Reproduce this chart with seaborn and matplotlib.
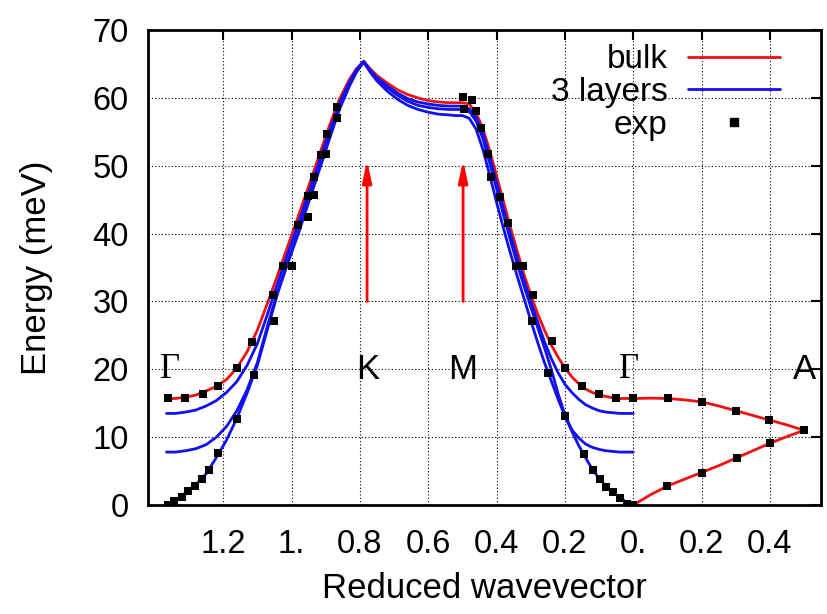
import numpy as np
import pandas as pd
import seaborn as sns
import matplotlib.pyplot as plt
from matplotlib.lines import Line2D

# === dane ===
# oś x: współrzędna wewnętrzna (Γ=-1.366, K=-0.789, M=-0.5, Γ=0, A=0.5)
U_PATH = [-1.366, -1.34, -1.31, -1.28, -1.25, -1.22, -1.19, -1.16, -1.13, -1.10,
          -1.07, -1.04, -1.01, -0.98, -0.95, -0.92, -0.89, -0.86, -0.83, -0.81,
          -0.789, -0.77, -0.75, -0.72, -0.69, -0.66, -0.63, -0.60, -0.57, -0.54,
          -0.52, -0.50, -0.48, -0.46, -0.44, -0.42, -0.40, -0.38, -0.36, -0.34,
          -0.32, -0.30, -0.28, -0.26, -0.24, -0.22, -0.20, -0.18, -0.16, -0.14,
          -0.12, -0.10, -0.08, -0.06, -0.04, -0.02, 0.0]

BULK_ZO = [15.7, 15.7, 15.9, 16.2, 16.8, 17.5, 18.5, 20.2, 22.6, 25.8,
           29.8, 34.0, 38.3, 42.6, 47.0, 51.4, 55.8, 59.8, 62.8, 64.3,
           65.4, 64.3, 63.3, 62.2, 61.2, 60.5, 60.0, 59.6, 59.4, 59.3,
           59.3, 59.3, 59.1, 57.8, 55.5, 52.2, 48.5, 44.8, 41.0, 37.5,
           34.0, 31.0, 28.2, 25.8, 23.6, 21.8, 20.2, 18.9, 17.9, 17.1,
           16.6, 16.2, 16.0, 15.8, 15.7, 15.7, 15.7]

L3_ZA = [0.0, 0.7, 1.8, 3.0, 4.6, 7.0, 9.6, 12.8, 16.5, 20.6,
         26.0, 31.3, 35.8, 40.0, 44.6, 49.2, 53.8, 58.3, 61.8, 63.8,
         65.3, 63.8, 62.5, 61.0, 59.8, 58.9, 58.3, 57.9, 57.6, 57.5,
         57.4, 57.4, 57.0, 55.4, 52.4, 48.6, 44.6, 40.8, 37.2, 33.8,
         30.5, 27.2, 24.0, 21.0, 18.3, 15.6, 13.1, 10.9, 8.8, 7.0,
         5.3, 3.9, 2.8, 1.9, 1.1, 0.4, 0.0]

L3_ZO1 = [7.8, 7.8, 8.0, 8.3, 8.9, 10.0, 11.6, 13.9, 17.0, 21.0,
          26.5, 31.6, 36.0, 40.4, 45.0, 49.6, 54.2, 58.6, 62.0, 64.0,
          65.3, 64.0, 62.8, 61.5, 60.4, 59.5, 58.9, 58.6, 58.4, 58.3,
          58.3, 58.3, 58.0, 56.6, 54.0, 50.4, 46.6, 42.8, 39.1, 35.6,
          32.3, 29.2, 26.2, 23.2, 20.0, 16.4, 13.3, 11.1, 9.9, 9.0,
          8.5, 8.2, 8.0, 7.9, 7.8, 7.8, 7.8]

L3_ZO2 = [13.5, 13.5, 13.7, 14.0, 14.6, 15.4, 16.6, 18.2, 20.6, 23.8,
          28.2, 32.8, 37.2, 41.5, 46.0, 50.5, 55.0, 59.2, 62.4, 64.2,
          65.4, 64.1, 63.0, 61.8, 60.7, 59.9, 59.4, 59.1, 58.9, 58.8,
          58.8, 58.8, 58.4, 57.2, 54.8, 51.3, 47.5, 43.7, 40.0, 36.5,
          33.1, 30.0, 27.0, 24.1, 21.6, 19.5, 17.8, 16.6, 15.6, 14.8,
          14.3, 13.9, 13.7, 13.6, 13.5, 13.5, 13.5]

U_GA = [0.0, 0.05, 0.10, 0.15, 0.20, 0.25, 0.30, 0.35, 0.40, 0.45, 0.50]
BULK_GA_UP = [15.7, 15.75, 15.7, 15.5, 15.2, 14.6, 13.9, 13.2, 12.5, 11.8, 11.0]
BULK_GA_LOW = [0.0, 1.5, 2.8, 3.8, 4.8, 5.8, 6.9, 8.0, 9.1, 10.1, 11.0]

EXP_U = [-1.361, -1.343, -1.322, -1.303, -1.283, -1.262, -1.243, -1.214, -1.161, -1.109,
         -1.051, -1.024, -0.998, -1.361, -1.313, -1.260, -1.214, -1.161, -1.117, -1.054,
         -0.981, -0.953, -0.953, -0.934, -0.934, -0.914, -0.898, -0.895, -0.866, -0.866,
         -0.497, -0.473, -0.495, -0.461, -0.446, -0.424, -0.416, -0.390, -0.368, -0.344,
         -0.322, -0.292, -0.295, -0.237, -0.249, -0.200, -0.150, -0.200, -0.099, -0.050,
         0.0, -0.145, -0.119, -0.098, -0.079, -0.059, -0.038, -0.018, 0.0,
         0.103, 0.2, 0.3, 0.397, 0.5, 0.4, 0.304, 0.2, 0.1]
EXP_E = [0.0, 0.6, 1.2, 2.1, 2.8, 3.9, 5.1, 7.6, 12.7, 19.1,
         27.1, 35.3, 35.3, 15.8, 15.8, 16.3, 17.5, 20.2, 24.0, 30.9,
         41.2, 42.5, 45.5, 45.7, 48.3, 51.6, 51.7, 54.7, 57.0, 58.7,
         60.2, 59.7, 58.3, 58.1, 55.6, 51.7, 48.4, 45.4, 41.5, 35.3,
         35.3, 31.0, 27.1, 24.2, 19.5, 20.2, 17.6, 13.1, 16.3, 15.8,
         15.7, 7.5, 5.1, 3.8, 2.7, 1.9, 1.0, 0.2, 0.0,
         15.8, 15.2, 13.8, 12.6, 11.0, 9.2, 6.9, 4.7, 2.8]

XTICKS = [-1.2, -1.0, -0.8, -0.6, -0.4, -0.2, 0.0, 0.2, 0.4]
XTICK_LABELS = ["1.2", "1.", "0.8", "0.6", "0.4", "0.2", "0.", "0.2", "0.4"]
YTICKS = [0, 10, 20, 30, 40, 50, 60, 70]

POINT_LABELS = ["Γ", "K", "M", "Γ", "A"]
POINT_U = [-1.356, -0.776, -0.498, -0.011, 0.501]
ARROW_U = [-0.779, -0.498]

# === tabela dla seaborn ===
frames = []
for name, model, uu, ee in [
    ("bulk_zo", "bulk", U_PATH, BULK_ZO),
    ("bulk_ga_up", "bulk", U_GA, BULK_GA_UP),
    ("bulk_ga_low", "bulk", U_GA, BULK_GA_LOW),
    ("l3_za", "3 layers", U_PATH, L3_ZA),
    ("l3_zo1", "3 layers", U_PATH, L3_ZO1),
    ("l3_zo2", "3 layers", U_PATH, L3_ZO2),
]:
    frames.append(pd.DataFrame({"u": uu, "E": ee, "model": model, "branch": name}))
df = pd.concat(frames, ignore_index=True)

sns.set_style("white")
plt.rcParams['font.family'] = ['Liberation Sans', 'DejaVu Sans']
plt.rcParams['text.color'] = 'black'
plt.rcParams['axes.labelcolor'] = 'black'

fig = plt.figure(figsize=(8.27, 6.14), dpi=100)
ax = fig.add_axes([0.179, 0.1775, 0.814, 0.7735])

palette = {"bulk": "#ee1111", "3 layers": "#1111ee"}
for model in ["bulk", "3 layers"]:
    sns.lineplot(data=df[df["model"] == model], x="u", y="E", hue="model",
                 units="branch", estimator=None, sort=False, palette=palette,
                 linewidth=2, legend=False, ax=ax)

sns.scatterplot(x=EXP_U, y=EXP_E, marker="s", color="black", s=34,
                linewidth=0, zorder=5, ax=ax)

# strzałki
for xa in ARROW_U:
    ax.annotate("", xy=(xa, 50.8), xytext=(xa, 30),
                arrowprops=dict(arrowstyle="-|>,head_length=1.3,head_width=0.28",
                                color="red", lw=2, shrinkA=0, shrinkB=0))

# etykiety punktów symetrii
for lab, xu in zip(POINT_LABELS, POINT_U):
    fam = ['Liberation Serif', 'DejaVu Serif'] if lab == "Γ" else ['Liberation Sans', 'DejaVu Sans']
    ax.text(xu, 20, lab, ha="center", va="center", fontsize=25, family=fam, color="black")

ax.set_xlim(-1.42, 0.55)
ax.set_ylim(0, 70)
ax.set_xticks(XTICKS)
ax.set_xticklabels(XTICK_LABELS)
ax.set_yticks(YTICKS)
ax.grid(True, color="black", linestyle=(0, (1, 2)), linewidth=0.8)
ax.tick_params(direction="in", length=7, width=1.5, top=True, right=True,
               labelsize=23.5, colors="black")
ax.tick_params(axis="x", pad=17)
ax.tick_params(axis="y", pad=14)
for sp in ax.spines.values():
    sp.set_linewidth(2)
    sp.set_color("black")

ax.set_xlabel("Reduced wavevector", fontsize=25, labelpad=9)
ax.set_ylabel("Energy (meV)", fontsize=25, labelpad=28)

handles = [Line2D([], [], color="#ee1111", lw=2),
           Line2D([], [], color="#1111ee", lw=2),
           Line2D([], [], ls="", marker="s", color="black", ms=5.5)]
ax.legend(handles, ["bulk", "3 layers", "exp"], markerfirst=False, frameon=False,
          fontsize=24, handlelength=2.75, handletextpad=0.62, labelspacing=0.05,
          loc="upper right", bbox_to_anchor=(0.939, 0.97), borderaxespad=0,
          borderpad=0)

fig.savefig("out.png", dpi=100)
